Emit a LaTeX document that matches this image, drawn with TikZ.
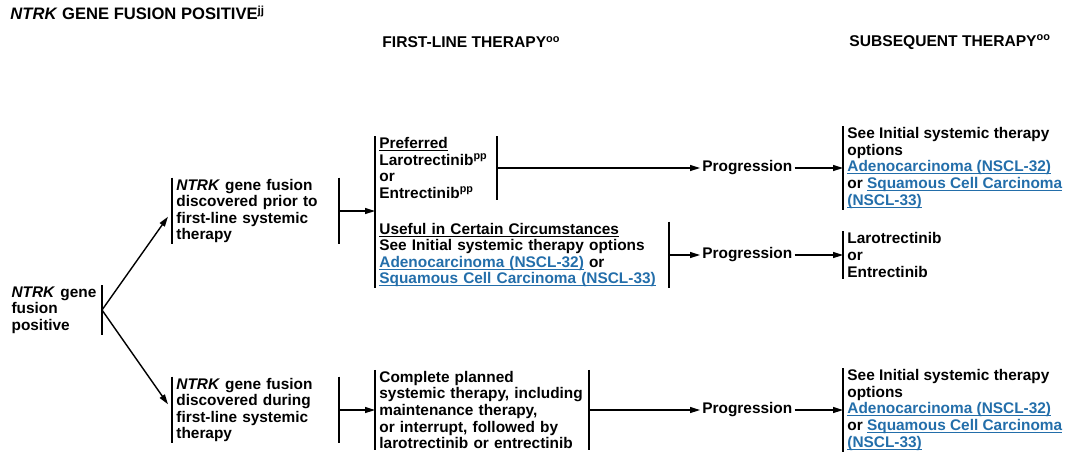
\documentclass[tikz,border=0pt]{standalone}
\usepackage{fontspec}
\setmainfont{Liberation Sans}
\usetikzlibrary{arrows.meta}
\definecolor{linkblue}{RGB}{35,110,170}
\newsavebox{\ulbox}
\newcommand{\ulin}[1]{\sbox{\ulbox}{#1}\rlap{\rule[-1.2pt]{\wd\ulbox}{0.45pt}}\usebox{\ulbox}}
\newcommand{\lnk}[1]{\textcolor{linkblue}{\ulin{#1}}}
\tikzset{
	basics/.style={font=\fontsize{7.7}{8.3}\selectfont\bfseries, align=left, inner xsep=2pt, inner ysep=0.5pt},
	head/.style={basics, font=\fontsize{7.8}{9}\selectfont\bfseries, anchor=west},
	barbox/.style={basics, anchor=west},
	prog/.style={basics, anchor=west, inner xsep=1pt},
	bar/.style={line width=0.7pt},
	arrow/.style={line width=0.7pt,->},
}
\tikzset{>={Triangle[length=5pt,width=3pt]}}

\begin{document}
\begin{tikzpicture}[x=0.5pt,y=-0.5pt]
\useasboundingbox (0,0) rectangle (1080,461);
% headings
\node (title) [head, font=\fontsize{8.3}{9}\selectfont\bfseries] at (6,13) {\textit{NTRK} GENE FUSION POSITIVE\textsuperscript{jj}};
\node (hfirst) [head] at (378,42) {FIRST-LINE THERAPY\textsuperscript{oo}};
\node (hsub) [head] at (845,42) {SUBSEQUENT THERAPY\textsuperscript{oo}};
% tree
\node (root) [basics, text width=43pt, anchor=east] at (102,310) {\textit{NTRK} gene\\ fusion\\ positive};
\node (prior) [barbox, text width=79pt] at (172,211) {\textit{NTRK} gene fusion\\ discovered prior to\\ first-line systemic\\ therapy};
\node (during) [barbox, text width=79pt] at (172,410) {\textit{NTRK} gene fusion\\ discovered during\\ first-line systemic\\ therapy};
\node (pref) [barbox, text width=56.5pt] at (375,168) {\ulin{Preferred}\\ Larotrectinib\textsuperscript{pp}\\ or\\ Entrectinib\textsuperscript{pp}};
\node (useful) [barbox, text width=142.5pt] at (375,255) {\ulin{Useful in Certain Circumstances}\\ See Initial systemic therapy options\\ \lnk{Adenocarcinoma (NSCL-32)} or\\ \lnk{Squamous Cell Carcinoma (NSCL-33)}};
\node (complete) [barbox, text width=102.5pt] at (375,410) {Complete planned\\ systemic therapy, including\\ maintenance therapy,\\ or interrupt, followed by\\ larotrectinib or entrectinib};
\node (prog1) [prog] at (700,168) {Progression};
\node (prog2) [prog] at (700,255) {Progression};
\node (prog3) [prog] at (700,410) {Progression};
\node (sub1) [barbox] at (843,168) {See Initial systemic therapy\\ options\\ \lnk{Adenocarcinoma (NSCL-32)}\\ or \lnk{Squamous Cell Carcinoma}\\ \lnk{(NSCL-33)}};
\node (sub2) [barbox] at (843,255) {Larotrectinib\\ or\\ Entrectinib};
\node (sub3) [barbox] at (843,410) {See Initial systemic therapy\\ options\\ \lnk{Adenocarcinoma (NSCL-32)}\\ or \lnk{Squamous Cell Carcinoma}\\ \lnk{(NSCL-33)}};
% bars
\foreach \n in {prior,during,complete,sub1,sub2,sub3}
\draw [bar] (\n.north west) -- (\n.south west);
\foreach \n in {root,prior,during,pref,useful,complete}
\draw [bar] (\n.north east) -- (\n.south east);
\draw [bar] (pref.north west) -- (useful.south west);
% connectors
\foreach \i/\j in {root.east/prior.west,root.east/during.west}
\draw [arrow, shorten >=3.5pt] (\i) -- (\j);
\draw [arrow] (prior.east) -- (prior.east -| pref.west);
\foreach \i/\j in {during.east/complete.west,pref.east/prog1.west,useful.east/prog2.west,complete.east/prog3.west,prog1.east/sub1.west,prog2.east/sub2.west,prog3.east/sub3.west}
\draw [arrow] (\i) -- (\j);
\end{tikzpicture}
\end{document}
